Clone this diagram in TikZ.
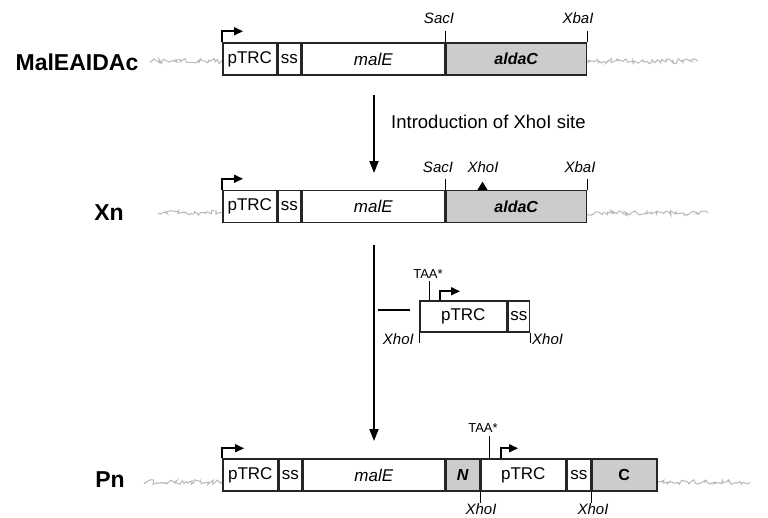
\documentclass[tikz,border=0pt]{standalone}
\usepackage{fontspec}
\setmainfont{Liberation Sans}
\usetikzlibrary{arrows.meta,decorations.pathmorphing,calc}
\begin{document}
\begin{tikzpicture}[x=1pt,y=-1pt,
 seg/.style={draw=black!85, line width=1.5pt, rectangle, inner sep=0pt, minimum height=32pt, anchor=west, font=\fontsize{17}{19}\selectfont},
 grayseg/.style={seg, fill=black!20},
 lbl/.style={font=\bfseries\fontsize{23}{26}\selectfont},
 site/.style={font=\itshape\fontsize{15}{17}\selectfont, inner sep=0pt},
 taa/.style={font=\fontsize{13}{15}\selectfont, inner sep=0pt},
 tick/.style={line width=1pt},
 prom/.style={line width=1.6pt, -{Triangle[length=9pt,width=8pt]}},
 mainarrow/.style={line width=1.8pt, -{Triangle[length=12pt,width=9pt]}},
 vec/.style={draw=black!28, line width=1pt, decorate, decoration={random steps, segment length=2pt, amplitude=2.5pt}},
]
\useasboundingbox (0,0) rectangle (768,517);

% ---------- Row 1: MalEAIDAc ----------
\node[lbl] (l1) at (77,62) {MalEAIDAc};
\coordinate (v1a) at (150,61); \coordinate (v1b) at (222,61);
\coordinate (v1c) at (583,61); \coordinate (v1d) at (698,61);
\draw[vec] (v1a) -- (v1b); \draw[vec] (v1c) -- (v1d);
\node[seg, minimum width=54pt] (r1p) at (222,59) {pTRC};
\node[seg, minimum width=22pt] (r1s) at (r1p.east) {ss};
\node[seg, minimum width=143pt, font=\itshape\fontsize{17}{19}\selectfont] (r1m) at (r1s.east) {malE};
\node[grayseg, minimum width=140pt, font=\bfseries\itshape\fontsize{16}{18}\selectfont] (r1a) at (r1m.east) {aldaC};
\draw[prom] (r1p.north west) -- ++(0,-11) -- ++(21,0);
\draw[tick] (r1a.north west) -- ++(0,-11) coordinate (t1a);
\draw[tick] (r1a.north east) -- ++(0,-11) coordinate (t1b);
\node[site] (s1a) at (439,18) {SacI};
\node[site] (s1b) at (578,18) {XbaI};

% ---------- Arrow 1 ----------
\coordinate (a1s) at (374,95);
\coordinate (a1e) at (374,173);
\draw[mainarrow] (a1s) -- (a1e);
\node[anchor=west, font=\fontsize{18.5}{20}\selectfont, inner sep=0pt] (intro) at (391,122) {Introduction of XhoI site};

% ---------- Row 2: Xn ----------
\node[lbl] (l2) at (109,213) {Xn};
\coordinate (v2a) at (158,213); \coordinate (v2b) at (222,213);
\coordinate (v2c) at (583,213); \coordinate (v2d) at (708,213);
\draw[vec] (v2a) -- (v2b); \draw[vec] (v2c) -- (v2d);
\node[seg, minimum width=54pt] (r2p) at (222,206.5) {pTRC};
\node[seg, minimum width=22pt] (r2s) at (r2p.east) {ss};
\node[seg, minimum width=143pt, font=\itshape\fontsize{17}{19}\selectfont] (r2m) at (r2s.east) {malE};
\node[grayseg, minimum width=140pt, font=\bfseries\itshape\fontsize{16}{18}\selectfont] (r2a) at (r2m.east) {aldaC};
\draw[prom] (r2p.north west) -- ++(0,-11) -- ++(21,0);
\draw[tick] (r2a.north west) -- ++(0,-11);
\draw[tick] (r2a.north east) -- ++(0,-11);
\fill ($(r2a.north west)+(32,0)$) -- ++(5,-8) -- ++(5,8) -- cycle;
\node[site] (s2a) at (438,167) {SacI};
\node[site] (s2b) at (483,167) {XhoI};
\node[site] (s2c) at (580,167) {XbaI};

% ---------- Arrow 2 ----------
\coordinate (a2s) at (374,245);
\coordinate (a2e) at (374,441);
\draw[mainarrow] (a2s) -- (a2e);

% ---------- Insert ----------
\node[seg, minimum width=87pt, minimum height=31pt] (ip) at (419,316.5) {pTRC};
\node[seg, minimum width=21pt, minimum height=31pt] (is) at (ip.east) {ss};
\draw[tick] ($(ip.north west)+(10,0)$) -- ++(0,-19) coordinate (it);
\node[taa] (itaa) at (428,274) {TAA*};
\draw[prom] ($(ip.north west)+(21,0)$) -- ++(0,-9) -- ++(20,0);
\coordinate (hl1) at (378,310); \coordinate (hl2) at (410,310);
\draw[tick, line width=1.2pt] (hl1) -- (hl2);
\draw[tick] (ip.south west) -- ++(0,10);
\draw[tick] (is.south east) -- ++(0,10);
\node[site, anchor=east] (ix1) at (414,339) {XhoI};
\node[site, anchor=west] (ix2) at (532,339) {XhoI};

% ---------- Row 3: Pn ----------
\node[lbl] (l3) at (110,480) {Pn};
\coordinate (v3a) at (145,482); \coordinate (v3b) at (222,482);
\coordinate (v3c) at (649,482); \coordinate (v3d) at (750,482);
\draw[vec] (v3a) -- (v3b); \draw[vec] (v3c) -- (v3d);
\node[seg, minimum width=55pt] (r3p) at (222,475) {pTRC};
\node[seg, minimum width=22pt] (r3s) at (r3p.east) {ss};
\node[seg, minimum width=142pt, font=\itshape\fontsize{17}{19}\selectfont] (r3m) at (r3s.east) {malE};
\node[grayseg, minimum width=33pt, font=\bfseries\itshape\fontsize{16}{18}\selectfont] (r3n) at (r3m.east) {N};
\node[seg, minimum width=85pt] (r3p2) at (r3n.east) {pTRC};
\node[seg, minimum width=23pt] (r3s2) at (r3p2.east) {ss};
\node[grayseg, minimum width=65pt, font=\bfseries\fontsize{16}{18}\selectfont] (r3c) at (r3s2.east) {C};
\draw[prom] (r3p.north west) -- ++(0,-10) -- ++(22,0);
\draw[tick] ($(r3p2.north west)+(9,0)$) -- ++(0,-22);
\node[taa] (taa3) at (483,428) {TAA*};
\draw[prom] ($(r3p2.north west)+(21,0)$) -- ++(0,-10) -- ++(17,0);
\draw[tick] (r3n.south east) -- ++(0,11);
\draw[tick] (r3c.south west) -- ++(0,11);
\node[site] (px1) at (481,509) {XhoI};
\node[site] (px2) at (593,509) {XhoI};
\end{tikzpicture}
\end{document}
